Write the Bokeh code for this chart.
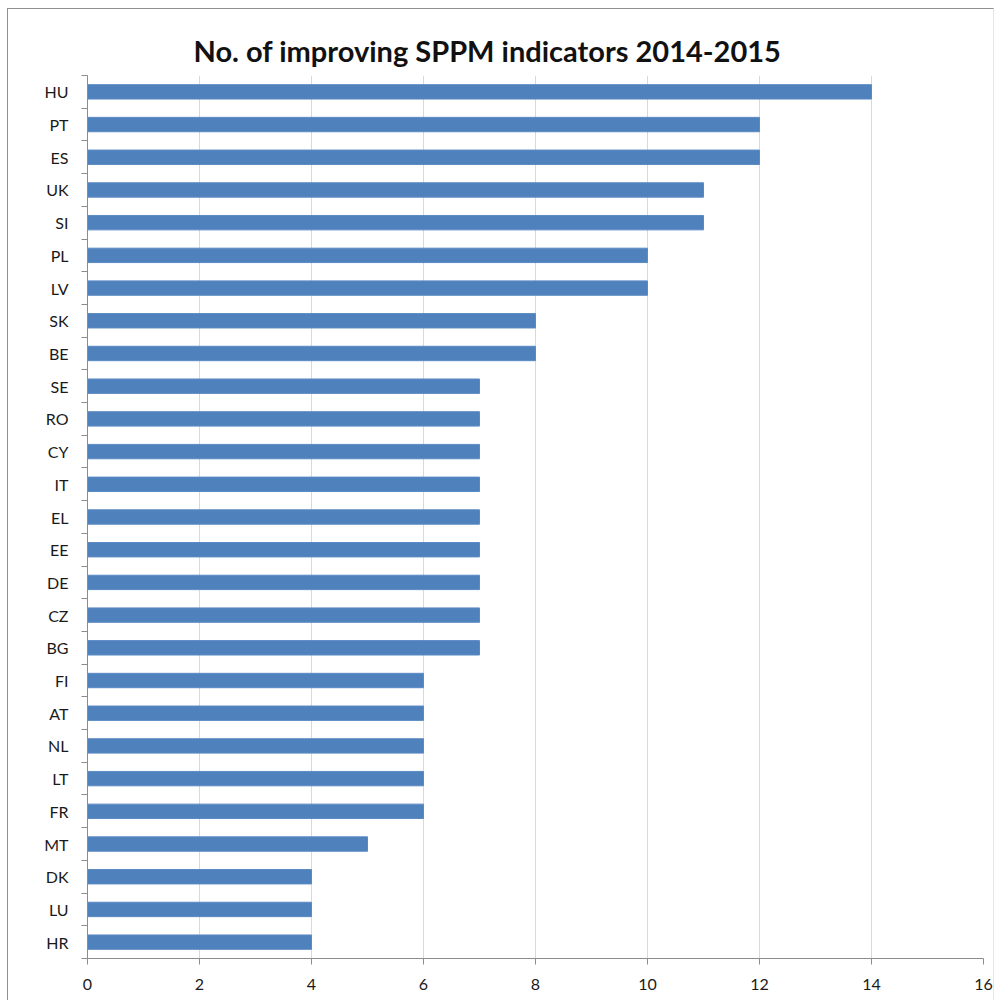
from bokeh.plotting import figure
from bokeh.models import ColumnDataSource, FixedTicker, Range1d
from bokeh.embed import file_html
from bokeh.resources import INLINE

# Countries from top to bottom, with their number of improving indicators
countries = ["HU", "PT", "ES", "UK", "SI", "PL", "LV", "SK", "BE", "SE", "RO", "CY",
             "IT", "EL", "EE", "DE", "CZ", "BG", "FI", "AT", "NL", "LT", "FR", "MT",
             "DK", "LU", "HR"]
improving = [14, 12, 12, 11, 11, 10, 10, 8, 8, 7, 7, 7,
             7, 7, 7, 7, 7, 7, 6, 6, 6, 6, 6, 5,
             4, 4, 4]
x_ticks = [0, 2, 4, 6, 8, 10, 12, 14, 16]
title_text = "No. of improving SPPM indicators 2014-2015"

n = len(countries)
# first country on top: position n-1 ... 0
ypos = [n - 1 - i for i in range(n)]
source = ColumnDataSource(dict(y=ypos, value=improving, name=countries))

FONT = "Lato"
AXIS_GRAY = "#8c8c8c"
LABEL_COLOR = "#1a1a1a"

p = figure(width=987, height=995, output_backend="svg", toolbar_location=None,
           x_range=Range1d(x_ticks[0], x_ticks[-1]),
           y_range=Range1d(-0.5, n - 0.5),
           min_border_left=79, min_border_right=12,
           min_border_top=66, min_border_bottom=46)
p.styles = {"margin-left": "7px", "margin-top": "8px",
            "border": "1px solid #8f8f8f", "border-right": "1px solid #e6e6e6",
            "border-bottom": "none"}

p.title.text = title_text
p.title.text_font = FONT
p.title.text_font_style = "bold"
p.title.text_font_size = "29px"
p.title.text_color = "#111111"
p.title.align = "left"
p.title.offset = 106
p.title.standoff = 16

p.hbar(y="y", right="value", left=0, height=0.44, source=source,
       fill_color="#4f81bd", line_color="#5b8ac4", line_width=1)

# x axis
p.xaxis.ticker = FixedTicker(ticks=x_ticks)
p.xaxis.axis_line_color = AXIS_GRAY
p.xaxis.major_tick_line_color = AXIS_GRAY
p.xaxis.major_tick_in = 0
p.xaxis.major_tick_out = 6
p.xaxis.minor_tick_line_color = None
p.xaxis.major_label_text_font = FONT
p.xaxis.major_label_text_font_size = "16px"
p.xaxis.major_label_text_color = LABEL_COLOR
p.xaxis.major_label_standoff = 14

# y axis: labels at bar centres, tick marks between categories
p.yaxis.ticker = FixedTicker(ticks=ypos, minor_ticks=[k - 0.5 for k in range(n + 1)])
p.yaxis.major_label_overrides = {y: c for y, c in zip(ypos, countries)}
p.yaxis.axis_line_color = AXIS_GRAY
p.yaxis.major_tick_line_color = None
p.yaxis.minor_tick_line_color = AXIS_GRAY
p.yaxis.minor_tick_in = 0
p.yaxis.minor_tick_out = 6
p.yaxis.major_label_text_font = FONT
p.yaxis.major_label_text_font_size = "16px"
p.yaxis.major_label_text_color = LABEL_COLOR
p.yaxis.major_label_standoff = 13

p.xgrid.grid_line_color = "#d9d9d9"
p.ygrid.grid_line_color = None
p.outline_line_color = None

open("out.html", "w").write(file_html(p, INLINE))
